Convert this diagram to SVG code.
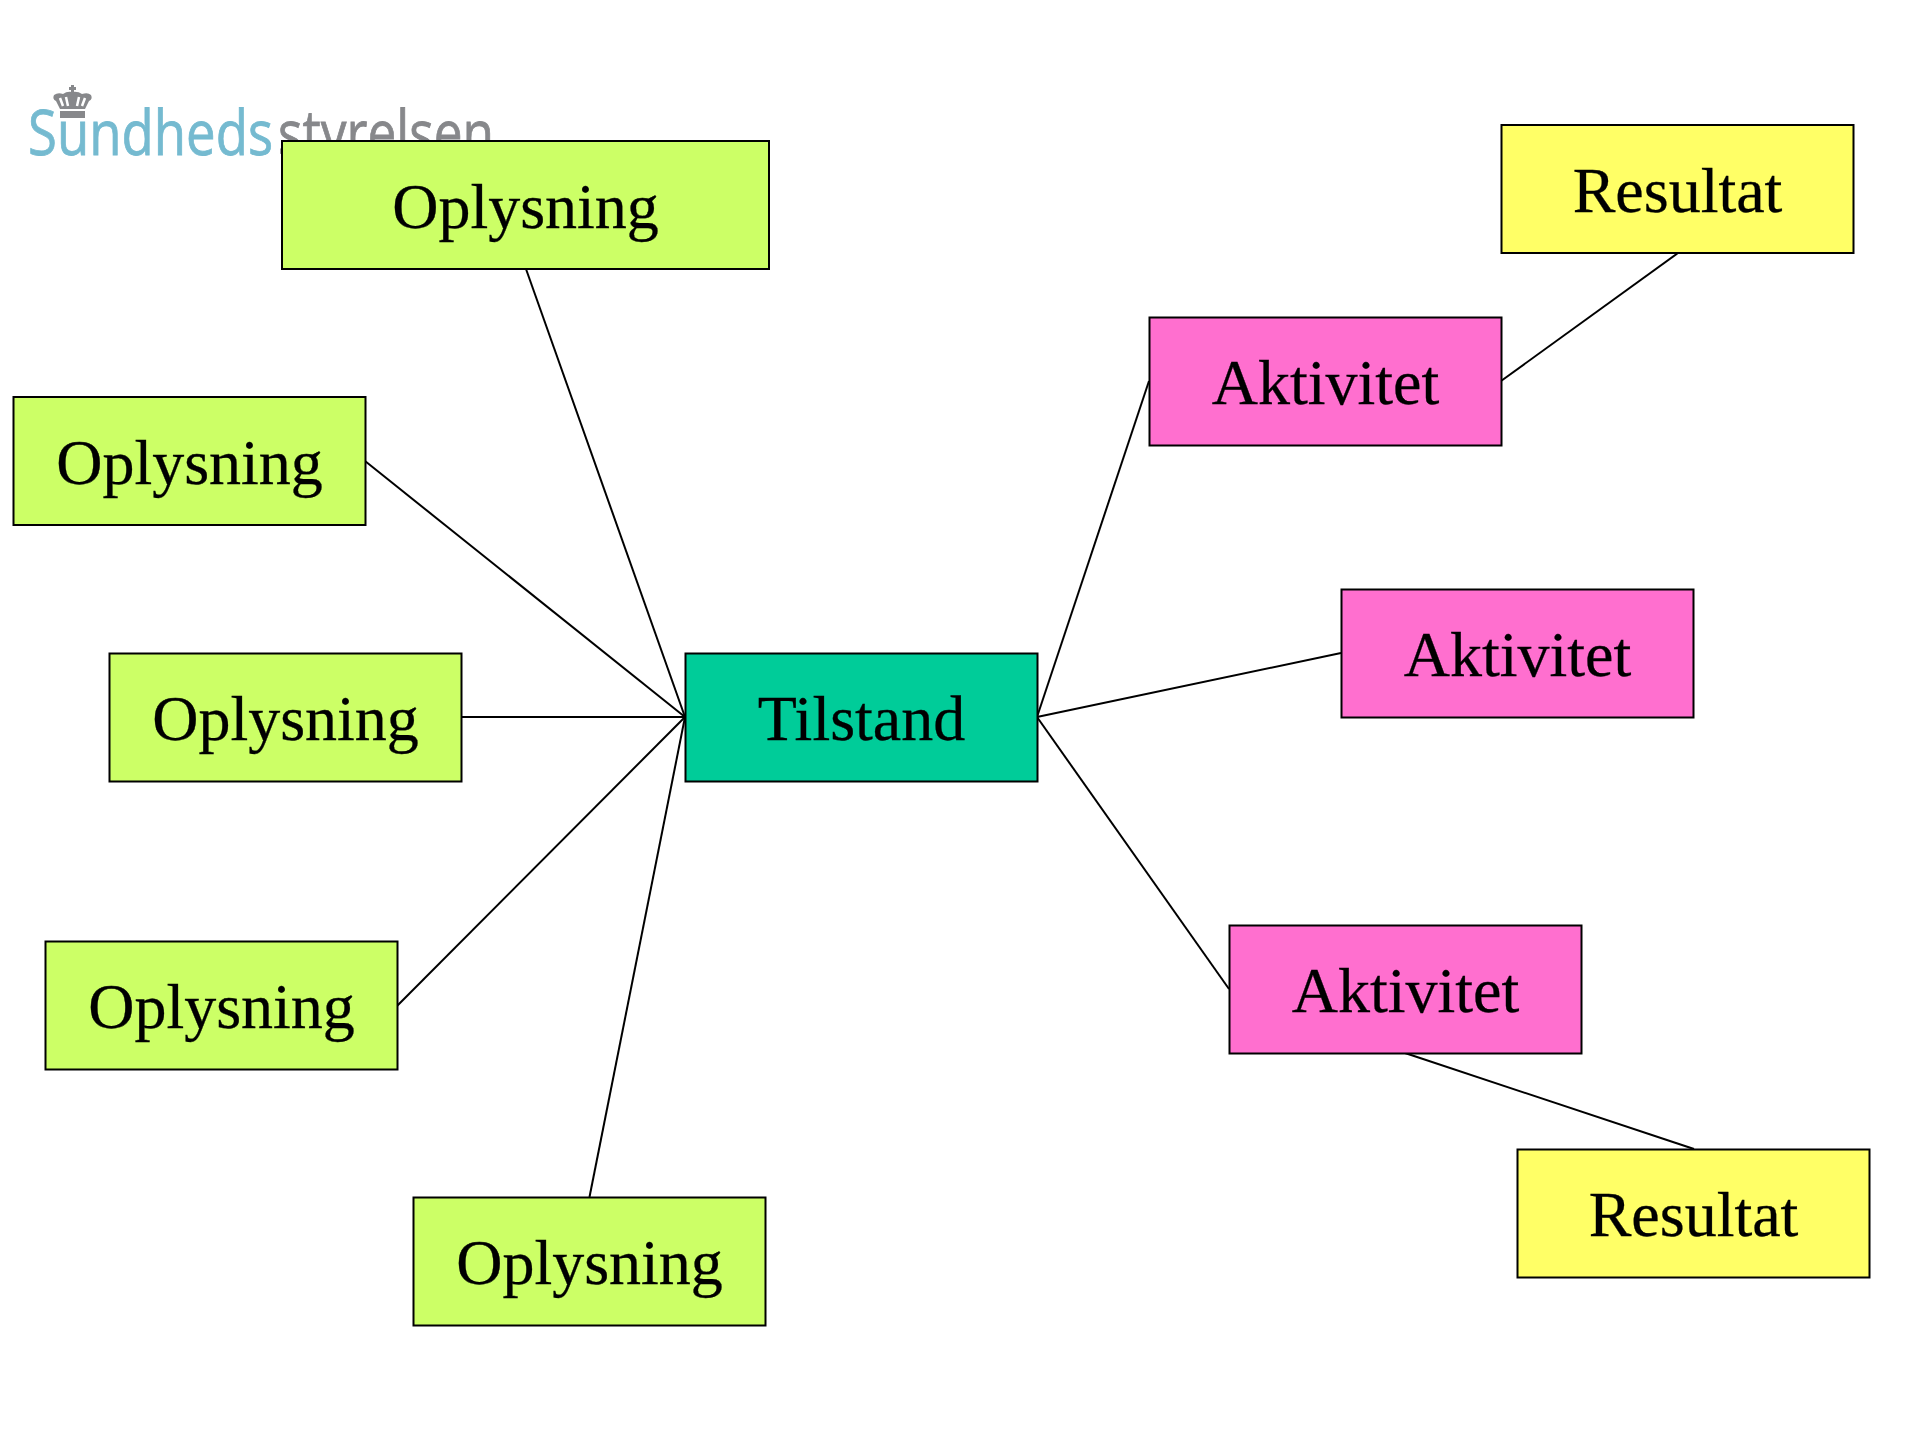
<svg xmlns="http://www.w3.org/2000/svg" width="1915" height="1435" viewBox="0 0 1915 1435">
<style>
.b{stroke:#000;stroke-width:2}
.o{fill:#ccff66}.t{fill:#00cc99}.a{fill:#ff6fcf}.r{fill:#ffff66}
.l{font-family:"Liberation Serif","Times New Roman",serif;font-size:64px;text-anchor:middle;fill:#000;stroke:#000;stroke-width:.3}
.c{stroke:#000;stroke-width:2;fill:none}
.lg{font-family:"Open Sans",Lato,sans-serif;font-size:62px;stroke-width:.8}
</style>
<defs><filter id="soft" x="-5%" y="-5%" width="110%" height="110%"><feGaussianBlur stdDeviation="0.6"/></filter></defs>
<rect width="1915" height="1435" fill="#fff"/>
<g id="logo" filter="url(#soft)">
<text class="lg" x="28" y="155" fill="#74bad0" stroke="#74bad0" textLength="245" lengthAdjust="spacingAndGlyphs">Sundheds</text>
<text class="lg" x="278" y="155" fill="#87888b" stroke="#87888b" textLength="216" lengthAdjust="spacingAndGlyphs">styrelsen</text>
<g id="crown" fill="#87888b">
<rect x="60" y="111" width="25" height="7"/>
<path d="M60 109 L56 101 Q52 99 54 95 Q58 92 63 94 Q67 91 72 92 Q78 91 82 94 Q88 92 91 95 Q93 99 89 101 L85 109 Z" fill="#87888b"/>
<path d="M60 98 L63 106 M66 97 L68 106 M79 97 L77 106 M85 98 L82 106" stroke="#fff" stroke-width="2.500" fill="none"/>
<rect x="71" y="85" width="3" height="9"/><rect x="69" y="87" width="7" height="3"/>
</g>
</g>
<g id="connectors">
<line class="c" x1="526" y1="269" x2="685" y2="717"/>
<line class="c" x1="365" y1="461" x2="685" y2="717"/>
<line class="c" x1="461" y1="717" x2="685" y2="717"/>
<line class="c" x1="397" y1="1006" x2="685" y2="717"/>
<line class="c" x1="589.500" y1="1197" x2="685" y2="717"/>
<line class="c" x1="1037" y1="717" x2="1149" y2="381"/>
<line class="c" x1="1037" y1="717" x2="1341" y2="653"/>
<line class="c" x1="1037" y1="717" x2="1229" y2="989"/>
<line class="c" x1="1501" y1="381" x2="1678" y2="253"/>
<line class="c" x1="1405" y1="1053" x2="1694" y2="1149"/>
</g>
<g id="n1"><rect class="b o" x="282" y="141" width="487" height="128"/><text class="l" x="525.500" y="228">Oplysning</text></g>
<g id="n2"><rect class="b o" x="13.500" y="397" width="352" height="128"/><text class="l" x="189.500" y="484">Oplysning</text></g>
<g id="n3"><rect class="b o" x="109.500" y="653.500" width="352" height="128"/><text class="l" x="285.500" y="740">Oplysning</text></g>
<g id="n4"><rect class="b o" x="45.500" y="941.500" width="352" height="128"/><text class="l" x="221.500" y="1028">Oplysning</text></g>
<g id="n5"><rect class="b o" x="413.500" y="1197.500" width="352" height="128"/><text class="l" x="589.500" y="1284">Oplysning</text></g>
<g id="n6"><rect class="b t" x="685.500" y="653.500" width="352" height="128"/><text class="l" x="861.500" y="740">Tilstand</text></g>
<g id="n7"><rect class="b a" x="1149.500" y="317.500" width="352" height="128"/><text class="l" x="1325.500" y="404">Aktivitet</text></g>
<g id="n8"><rect class="b a" x="1341.500" y="589.500" width="352" height="128"/><text class="l" x="1517.500" y="676">Aktivitet</text></g>
<g id="n9"><rect class="b a" x="1229.500" y="925.500" width="352" height="128"/><text class="l" x="1405.500" y="1012">Aktivitet</text></g>
<g id="n10"><rect class="b r" x="1501.500" y="125" width="352" height="128"/><text class="l" x="1677.500" y="212">Resultat</text></g>
<g id="n11"><rect class="b r" x="1517.500" y="1149.500" width="352" height="128"/><text class="l" x="1693.500" y="1236">Resultat</text></g>
</svg>
